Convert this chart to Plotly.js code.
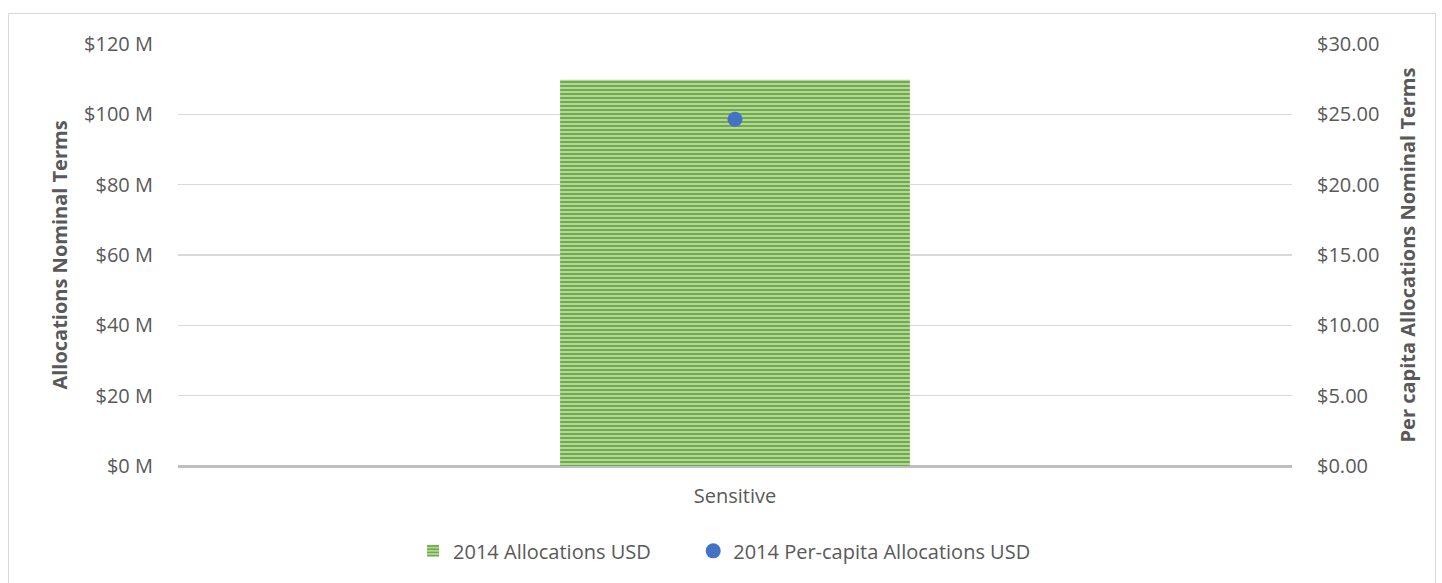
<!DOCTYPE html>
<html>
<head>
<meta charset="utf-8">
<script src="https://cdn.plot.ly/plotly-3.0.1.min.js"></script>
<style>
html,body{margin:0;padding:0;background:#fff;overflow:hidden;}
#frame{position:absolute;left:8px;top:13px;width:1428px;height:600px;border:1.5px solid #D9D9D9;box-sizing:border-box;}
#chart{position:absolute;left:0;top:0;width:1442px;height:583px;}
</style>
</head>
<body>
<div id="frame"></div>
<div id="chart"></div>
<script>
const categories = ["Sensitive"];
const allocationsMillions = [109.8];
const perCapita = [24.65];
const seriesNames = ["2014 Allocations USD", "2014 Per-capita Allocations USD"];
const leftTicks = [0, 20, 40, 60, 80, 100, 120];
const rightTicks = [0, 5, 10, 15, 20, 25, 30];

const fam = "Open Sans, Liberation Sans, sans-serif";
const font = {family: fam, size: 20, color: "#595959"};
const titleFont = {family: fam, size: 20, color: "#595959", weight: "bold"};

const traces = [
  {
    type: "bar",
    x: categories,
    y: allocationsMillions,
    name: seriesNames[0],
    width: 0.314,
    marker: {
      color: "#C5E0B4",
      line: {width: 0},
      pattern: {shape: "-", fgcolor: "#70AD47", bgcolor: "#C5E0B4", size: 4, solidity: 0.6}
    },
    yaxis: "y",
    legend: "legend"
  },
  {
    type: "scatter",
    mode: "markers",
    x: categories,
    y: perCapita,
    name: seriesNames[1],
    marker: {color: "#4472C4", size: 15},
    yaxis: "y2",
    legend: "legend2"
  }
];

const layout = {
  width: 1442,
  height: 583,
  paper_bgcolor: "rgba(0,0,0,0)",
  plot_bgcolor: "rgba(0,0,0,0)",
  margin: {l: 178, r: 150, t: 44, b: 117},
  font: font,
  showlegend: true,
  legend: {orientation: "h", x: 0.211, xanchor: "left", y: -0.201, yanchor: "middle", font: font},
  legend2: {orientation: "h", x: 0.4625, xanchor: "left", y: -0.201, yanchor: "middle", font: font},
  xaxis: {
    type: "category",
    showgrid: false,
    showline: false,
    zeroline: false,
    ticks: "",
    tickfont: font,
    ticklabelstandoff: 16
  },
  yaxis: {
    range: [0, 120],
    tickvals: leftTicks,
    ticktext: leftTicks.map(v => "$" + v + " M"),
    showgrid: true,
    gridcolor: "#D9D9D9",
    gridwidth: 1.3,
    zeroline: true,
    zerolinecolor: "#BFBFBF",
    zerolinewidth: 3,
    showline: false,
    ticks: "",
    tickfont: font,
    ticklabelstandoff: 24,
    title: {text: "Allocations Nominal Terms", font: titleFont, standoff: 11}
  },
  yaxis2: {
    overlaying: "y",
    side: "right",
    range: [0, 30],
    tickvals: rightTicks,
    ticktext: rightTicks.map(v => "$" + v.toFixed(2)),
    showgrid: false,
    zeroline: false,
    showline: false,
    ticks: "",
    tickfont: font,
    ticklabelstandoff: 24,
    title: {text: "Per capita Allocations Nominal Terms", font: titleFont, standoff: 22}
  }
};

Plotly.newPlot("chart", traces, layout, {displayModeBar: false, staticPlot: true});
</script>
</body>
</html>
